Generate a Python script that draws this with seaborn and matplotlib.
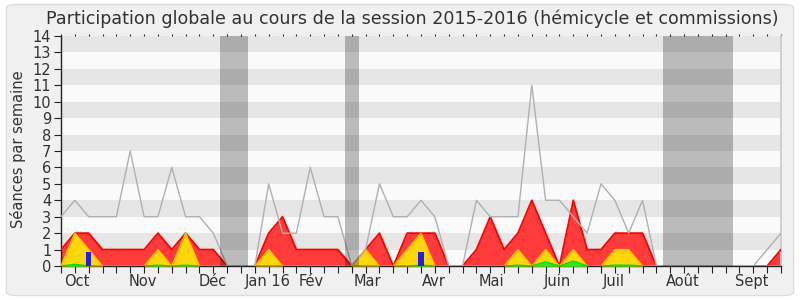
import matplotlib
matplotlib.use("Agg")
import matplotlib.pyplot as plt
import seaborn as sns
import pandas as pd
import numpy as np
from matplotlib.patches import FancyBboxPatch

# ---- data (weekly, session 2015-2016) ----
weeks = list(range(53))
total = [3, 4, 3, 3, 3, 7, 3, 3, 6, 3, 3, 2, 0, 0, 0, 5, 2, 2, 6, 3,
         3, 0, 1, 5, 3, 3, 4, 3, 0, 0, 4, 3, 3, 3, 11, 4, 4, 3, 2, 5,
         4, 2, 4, 0, 0, 0, 0, 0, 0, 0, 0, 1, 2]
presence = [1, 2, 2, 1, 1, 1, 1, 2, 1, 2, 1, 1, 0, 0, 0, 2, 3, 1, 1, 1,
            1, 0, 1, 2, 0, 2, 2, 2, 0, 0, 1, 3, 1, 2, 4, 2, 0, 4, 1, 1,
            2, 2, 2, 0, 0, 0, 0, 0, 0, 0, 0, 0, 1]
participation = [0, 2, 1, 0, 0, 0, 0, 1, 0, 2, 0, 0, 0, 0, 0, 1, 0, 0, 0, 0,
                 0, 0, 1, 0, 0, 1, 2, 0, 0, 0, 0, 0, 0, 1, 0, 1, 0, 1, 0, 0,
                 1, 1, 0, 0, 0, 0, 0, 0, 0, 0, 0, 0, 0]
interventions = [0, 0.1, 0, 0, 0, 0, 0, 0.05, 0, 0.05, 0, 0, 0, 0, 0, 0, 0, 0, 0, 0,
                 0, 0, 0, 0, 0, 0, 0.05, 0, 0, 0, 0, 0, 0, 0.05, 0, 0.25, 0, 0.3, 0, 0,
                 0.05, 0.05, 0, 0, 0, 0, 0, 0, 0, 0, 0, 0, 0]
question_weeks = [2, 26]
question_vals = [0.87, 0.87]
vacations = [(11.5, 13.5), (20.5, 21.5), (43.5, 48.5)]
month_labels = ['Oct', 'Nov', 'Déc', 'Jan 16', 'Fév', 'Mar', 'Avr', 'Mai',
                'Juin', 'Juil', 'Août', 'Sept']
month_pos = [1.13, 5.92, 10.97, 14.9, 18.1, 22.1, 26.9, 31.1, 35.85, 39.9, 44.9, 49.9]
title = "Participation globale au cours de la session 2015-2016 (hémicycle et commissions)"

df = pd.DataFrame({'week': weeks, 'total': total, 'presence': presence,
                   'participation': participation, 'interventions': interventions})

sns.set_theme(style='white')
plt.rcParams['font.family'] = ['DejaVu Sans']

fig = plt.figure(figsize=(8, 3), dpi=100)
fig.patch.set_facecolor('white')
fig.patches.append(FancyBboxPatch((0.008, 0.015), 0.984, 0.97,
                                  boxstyle="round,pad=0,rounding_size=0.012",
                                  transform=fig.transFigure, facecolor='#f0f0f0',
                                  edgecolor='#dddddd', linewidth=1, zorder=-10))
ax = fig.add_axes([61/800, 1-266/300, 720/800, 230/300])
ax.set_facecolor('#fafafa')

for k in range(1, 14, 2):
    ax.axhspan(k, k+1, color='#e6e6e6', zorder=0, lw=0)

# areas
ax.fill_between(df['week'], df['presence'], color='#ff3b3b', lw=0, zorder=2)
sns.lineplot(data=df, x='week', y='presence', color='#ff0000', lw=1.3, ax=ax, zorder=3)
ax.fill_between(df['week'], df['participation'], color='#ffd60a', lw=0, zorder=4)
sns.lineplot(data=df, x='week', y='participation', color='#ffc400', lw=1.0, ax=ax, zorder=5)
ax.fill_between(df['week'], df['interventions'], color='#22ee22', lw=0, zorder=6)
sns.lineplot(data=df, x='week', y='interventions', color='#00dd00', lw=1.0, ax=ax, zorder=6)
ax.bar(question_weeks, question_vals, width=0.38, color='#2020dd',
       edgecolor='none', linewidth=0, zorder=7)
sns.lineplot(data=df, x='week', y='total', color='#b0b0b0', lw=1.0, ax=ax, zorder=8)

for a, b in vacations:
    ax.axvspan(a, b, color='black', alpha=0.25, lw=0, zorder=9)

ax.set_xlim(0, 52)
ax.set_ylim(0, 14)
ax.set_xlabel('')
ax.set_ylabel('')

ax.set_yticks(range(0, 15))
ax.set_yticklabels([str(v) for v in range(0, 15)], fontsize=10.5, color='#333333')
ax.set_xticks(month_pos)
ax.set_xticklabels(month_labels, fontsize=10.5, color='#333333')
ax.set_xticks(weeks, minor=True)
ax.tick_params(axis='x', which='major', length=0, pad=6)
ax.tick_params(axis='x', which='minor', length=5, width=0.8, color='#222222',
               direction='out', bottom=True, top=True)
ax.tick_params(axis='y', which='major', length=5, width=0.8, color='#222222',
               direction='out', left=True, pad=2)
for t in ax.xaxis.get_minor_ticks():
    t.tick2line.set_markersize(1.5)

ax.spines['top'].set_visible(False)
ax.spines['right'].set_color('#cccccc')
ax.spines['left'].set_color('#222222')
ax.spines['bottom'].set_color('#222222')
ax.spines['left'].set_linewidth(1)
ax.spines['bottom'].set_linewidth(1)

fig.text(412.5/800, 1-19/300, title, ha='center', va='center', fontsize=12.6, color='#333333')
fig.text(18/800, 1-149/300, 'Séances par semaine', rotation=90, ha='center', va='center',
         fontsize=10.5, color='#333333')

fig.savefig('out.png', dpi=100, facecolor=fig.get_facecolor())
